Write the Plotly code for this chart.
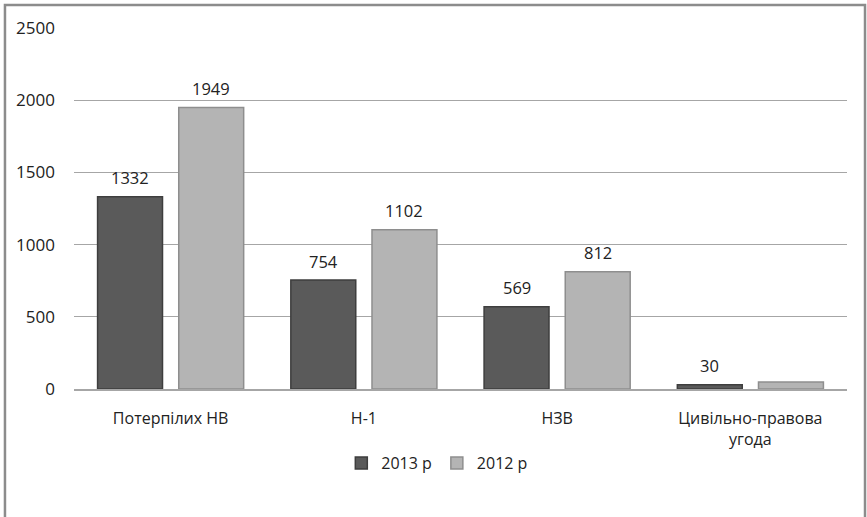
import plotly.graph_objects as go

categories = ["Потерпілих НВ", "Н-1", "НЗВ", "Цивільно-правова<br>угода"]
values_2013 = [1332, 754, 569, 30]
values_2012 = [1949, 1102, 812, 48]
labels_2013 = ["1332", "754", "569", "30"]
labels_2012 = ["1949", "1102", "812", ""]
series_names = ["2013 р", "2012 р"]
y_ticks = [0, 500, 1000, 1500, 2000, 2500]

font_family = "Open Sans, Lato, sans-serif"
slot_px = 40.5  # half distance between bar centres in a group

fig = go.Figure()
fig.add_trace(go.Bar(
    x=categories, y=values_2013, name=series_names[0],
    marker=dict(color="#5a5a5a", line=dict(color="#3e3e3e", width=1.5)),
))
fig.add_trace(go.Bar(
    x=categories, y=values_2012, name=series_names[1],
    marker=dict(color="#b4b4b4", line=dict(color="#8e8e8e", width=1.5)),
))

annotations = []
for labels, vals, shift in [(labels_2013, values_2013, -slot_px), (labels_2012, values_2012, slot_px)]:
    for c, v, t in zip(categories, vals, labels):
        if t:
            annotations.append(dict(x=c, y=v, text=t, xref="x", yref="y", showarrow=False,
                                    xshift=shift, yshift=19, font=dict(size=16.5, color="#222222")))

fig.update_layout(
    width=867, height=517,
    margin=dict(l=74, r=20, t=28, b=128),
    paper_bgcolor="white", plot_bgcolor="white",
    font=dict(family=font_family, size=16, color="#222222"),
    barmode="group", bargap=0.16, bargroupgap=0.2,
    showlegend=True,
    legend=dict(orientation="h", x=0.47, xanchor="center", y=-0.205, yanchor="middle",
                font=dict(size=16), itemwidth=30, traceorder="normal"),
    annotations=annotations,
    shapes=[dict(type="rect", xref="paper", yref="paper",
                 x0=-0.0893, x1=1.0233, y0=-0.5, y1=1.0637,
                 line=dict(color="#8c8c8c", width=2.5), fillcolor="rgba(0,0,0,0)", layer="below")],
)
fig.update_yaxes(range=[0, 2500], tickvals=y_ticks, showgrid=True, gridcolor="#a6a6a6",
                 gridwidth=1, zeroline=False, showline=False, ticks="",
                 ticklabelstandoff=18, tickfont=dict(size=17))
fig.update_xaxes(showline=True, linecolor="#a6a6a6", linewidth=1.5, ticks="",
                 ticklabelstandoff=14, tickfont=dict(size=16))

fig.write_html("out.html", config={"displayModeBar": False},
               post_script="document.body.style.margin='0';document.body.style.overflow='hidden';")
